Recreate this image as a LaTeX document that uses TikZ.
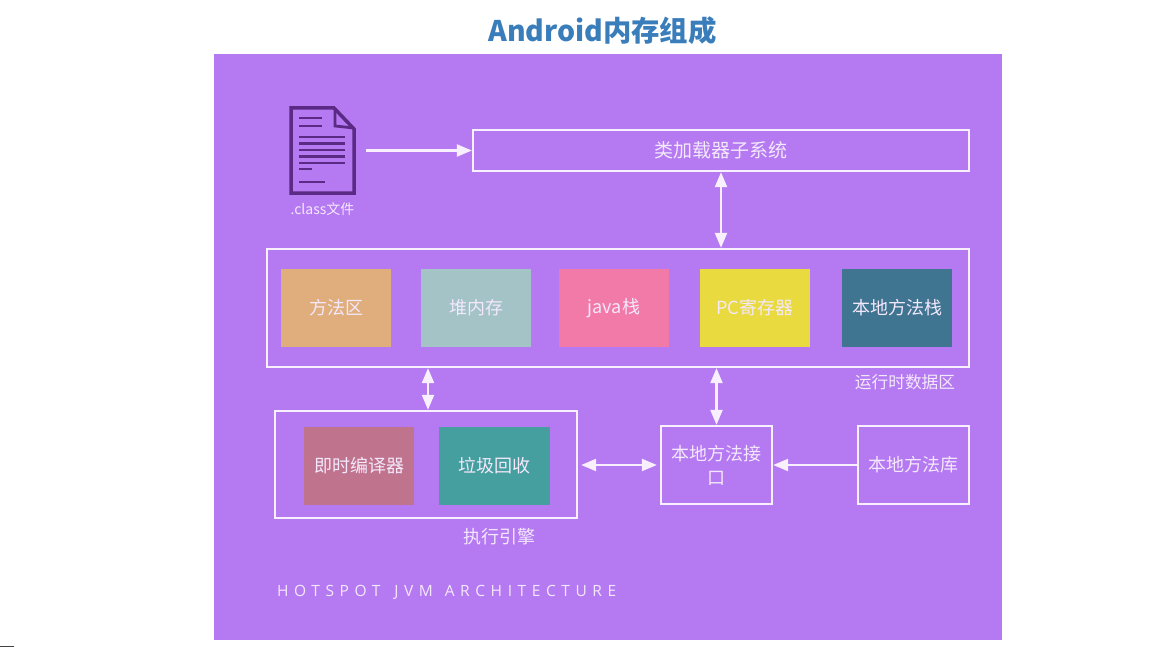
\documentclass[tikz,border=0pt]{standalone}
\usepackage{fontspec}
\setmainfont{Noto Sans CJK SC}
\newfontfamily\capfont[LetterSpace=36]{Open Sans}
\usetikzlibrary{arrows.meta}

\definecolor{jvmbg}{HTML}{B57AF2}
\definecolor{edgewhite}{HTML}{F8F0FE}
\definecolor{inktext}{HTML}{F3E8FC}
\definecolor{iconink}{HTML}{5A2A85}
\definecolor{titleblue}{HTML}{3A7DBB}
\definecolor{cellmethod}{HTML}{E0AE7C}
\definecolor{cellheap}{HTML}{A3C3C6}
\definecolor{celljava}{HTML}{F27AA8}
\definecolor{cellpc}{HTML}{E9DA3F}
\definecolor{cellnative}{HTML}{3F7590}
\definecolor{celljit}{HTML}{C0738D}
\definecolor{cellgc}{HTML}{459F9F}

\tikzset{
  framebox/.style={draw=edgewhite, line width=2.3pt, inner sep=0pt, outer sep=1.15pt, text=inktext, font=\fontsize{18}{24}\selectfont, align=center},
  cellbox/.style={inner sep=0pt, outer sep=0pt, minimum width=110pt, minimum height=78pt, text=inktext, font=\fontsize{18}{24}\selectfont},
  caption/.style={inner sep=0pt, text=inktext, font=\fontsize{16.7}{20}\selectfont},
  link/.style={draw=edgewhite, line width=2.2pt, -{Triangle[length=15pt,width=12pt]}},
  biglink/.style={link, {Triangle[length=15pt,width=12pt]}-{Triangle[length=15pt,width=12pt]}},
  iconline/.style={draw=iconink, line width=2.5pt}
}

\begin{document}
\begin{tikzpicture}[x=1pt,y=-1pt]
   \useasboundingbox (0,0) rectangle (1150,647);
   \fill[white] (0,0) rectangle (1150,647);
   \fill[jvmbg] (213.5,54.5) rectangle (1002,639.5);
   \fill[black!75] (0,645.5) rectangle (14,647);

   \node[inner sep=0pt, text=titleblue, font=\fontsize{28.4}{34}\selectfont\bfseries] (title) at (602.5,31) {Android内存组成};

   % file icon
   \draw[draw=iconink, line width=3.5pt, line join=miter] (291,108) -- (334,108) -- (354,129) -- (354,193) -- (291,193) -- cycle;
   \draw[draw=iconink, line width=2.8pt] (335,108) -- (335,126) -- (354,128);
   \foreach \y/\xend in {118/322, 126/322, 137/345, 143.5/345, 150/345, 156.5/345, 163/345, 169/312, 182/325}
      \draw[iconline] (299,\y) -- (\xend,\y);
   \node[inner sep=0pt, text=inktext, font=\fontsize{14}{17}\selectfont] (classlabel) at (322.5,209) {.class文件};
   \coordinate (classfile) at (366,150.5);

   % boxes
   \node[framebox, minimum width=496pt, minimum height=41pt, font=\fontsize{19}{24}\selectfont] (loader) at (721,150.5) {类加载器子系统};
   \node[framebox, minimum width=702pt, minimum height=118pt] (runtime) at (618,308) {};
   \node[framebox, minimum width=302pt, minimum height=107pt] (engine) at (426,464.5) {};
   \node[framebox, minimum width=111pt, minimum height=78pt] (jni) at (716.5,465) {本地方法接\\口};
   \node[framebox, minimum width=111pt, minimum height=78pt] (nativelib) at (913.5,465) {本地方法库};

   % runtime cells
   \node[cellbox, fill=cellmethod] (methodarea) at (336,308) {方法区};
   \node[cellbox, fill=cellheap] (heap) at (476,308) {堆内存};
   \node[cellbox, fill=celljava] (javastack) at (614,308) {java栈};
   \node[cellbox, fill=cellpc] (pcreg) at (755,308) {PC寄存器};
   \node[cellbox, fill=cellnative] (nativestack) at (897,308) {本地方法栈};

   % engine cells
   \node[cellbox, fill=celljit] (jit) at (359,465.5) {即时编译器};
   \node[cellbox, fill=cellgc, minimum width=111pt] (gc) at (494.5,465.5) {垃圾回收};

   \node[caption] (runtimelabel) at (905,382) {运行时数据区};
   \node[caption, font=\fontsize{18}{22}\selectfont] (enginelabel) at (499,537) {执行引擎};
   \node[inner sep=0pt, anchor=west, text=inktext, font=\fontsize{15.5}{18}\selectfont\capfont] (archlabel) at (277,592.5) {HOTSPOT\hspace{14pt}JVM\hspace{12pt}ARCHITECTURE};

   % connectors
   \draw[link] (classfile) -- (classfile -| loader.west);
   \draw[biglink] (loader.south) -- (loader.south |- runtime.north);
   \draw[biglink] ([xshift=2pt]engine.north) -- ([xshift=2pt]engine.north |- runtime.south);
   \draw[biglink] (jni.north) -- (jni.north |- runtime.south);
   \draw[biglink, shorten >=3pt, shorten <=3pt] (engine.east |- jni.west) -- (jni.west);
   \draw[link] (nativelib.west) -- (jni.east);
\end{tikzpicture}
\end{document}
